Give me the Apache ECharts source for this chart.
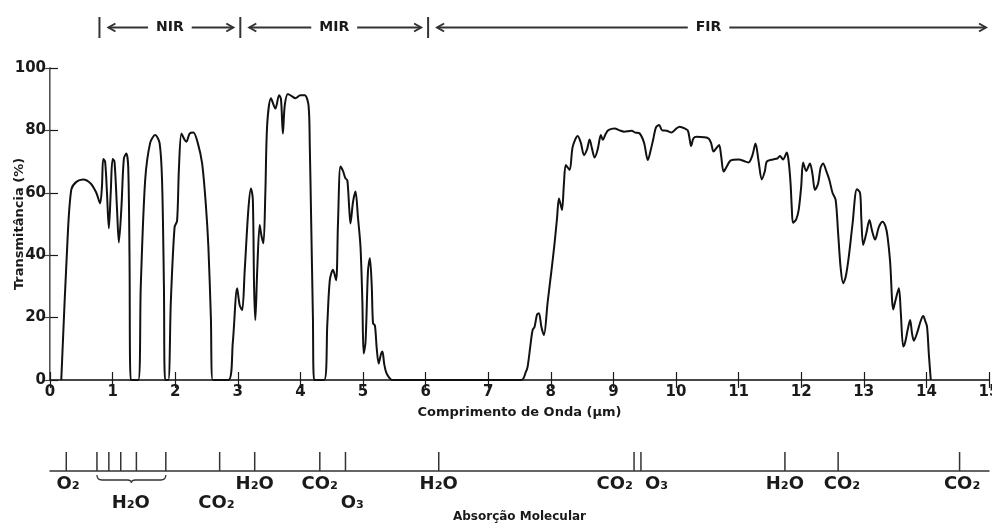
<!doctype html>
<html><head><meta charset="utf-8"></head>
<body style="margin:0">
<div id="container" style="width:992px;height:523px"></div>
<script src="https://cdn.jsdelivr.net/npm/echarts@6/dist/echarts.min.js"></script>
<script>
// espectro de transmitância atmosférica
var wavelength = [
  0.18, 0.28, 0.34, 0.42, 0.53, 0.65, 0.74, 0.80, 0.83, 0.85, 0.88, 0.91, 0.94, 0.97, 1.00, 1.03, 1.07, 1.10,
  1.14, 1.18, 1.22, 1.25, 1.27, 1.29, 1.41, 1.45, 1.52, 1.60, 1.68, 1.75, 1.79, 1.82, 1.84, 1.89, 1.93, 1.99,
  2.03, 2.06, 2.10, 2.15, 2.18, 2.23, 2.29, 2.36, 2.43, 2.49, 2.53, 2.57, 2.60, 2.85, 2.92, 2.99, 3.03, 3.07,
  3.11, 3.17, 3.21, 3.24, 3.26, 3.28, 3.31, 3.35, 3.38, 3.41, 3.44, 3.47, 3.53, 3.60, 3.66, 3.69, 3.72, 3.75,
  3.80, 3.86, 3.92, 4.00, 4.07, 4.13, 4.15, 4.17, 4.20, 4.22, 4.38, 4.43, 4.47, 4.52, 4.57, 4.60, 4.64, 4.68,
  4.72, 4.75, 4.78, 4.80, 4.84, 4.88, 4.92, 4.96, 4.99, 5.01, 5.04, 5.08, 5.11, 5.14, 5.16, 5.19, 5.22, 5.25,
  5.29, 5.31, 5.34, 5.38, 5.47, 7.53, 7.60, 7.63, 7.68, 7.71, 7.74, 7.78, 7.81, 7.85, 7.89, 7.95, 8.01, 8.06,
  8.10, 8.13, 8.16, 8.18, 8.21, 8.24, 8.30, 8.35, 8.43, 8.48, 8.53, 8.58, 8.62, 8.66, 8.70, 8.75, 8.80, 8.83,
  8.88, 8.92, 9.02, 9.10, 9.17, 9.29, 9.35, 9.42, 9.49, 9.55, 9.60, 9.64, 9.68, 9.73, 9.78, 9.85, 9.93, 10.00,
  10.06, 10.15, 10.19, 10.22, 10.24, 10.28, 10.33, 10.45, 10.52, 10.56, 10.60, 10.65, 10.69, 10.72, 10.76, 10.80,
  10.87, 11.00, 11.11, 11.16, 11.22, 11.27, 11.32, 11.37, 11.42, 11.45, 11.55, 11.62, 11.66, 11.71, 11.77, 11.80,
  11.83, 11.85, 11.87, 11.92, 11.96, 12.00, 12.03, 12.08, 12.14, 12.18, 12.22, 12.27, 12.31, 12.35, 12.40, 12.45,
  12.50, 12.55, 12.59, 12.63, 12.67, 12.71, 12.76, 12.82, 12.89, 12.94, 12.96, 12.99, 13.04, 13.09, 13.13, 13.18,
  13.24, 13.30, 13.35, 13.38, 13.42, 13.47, 13.50, 13.56, 13.59, 13.63, 13.66, 13.70, 13.74, 13.77, 13.80, 13.85,
  13.91, 13.95, 13.98, 14.01, 14.04, 14.07
];
var transmittance = [
  0, 45, 61, 63.5, 64.3, 63, 60, 56.6, 62, 70.8, 70, 60, 48.6, 60, 70.8, 70, 55, 44.1,
  55, 71, 72.6, 68, 40, 0, 0, 30, 64, 76, 78.5, 76, 64, 30, 0, 0, 25, 49,
  51, 68, 79, 77, 76.4, 79, 79.3, 76, 69.4, 56, 42.7, 20, 0, 0, 12, 29.4, 24, 22.4,
  35, 55, 61.4, 58, 30, 19.2, 35, 49.7, 46, 43.8, 60, 82, 90.3, 87, 91.3, 90, 79, 88,
  91.7, 91, 90.3, 91.3, 91.3, 88, 75, 53.4, 20, 0, 0, 18, 32, 35.3, 32, 50, 68.4, 67,
  64.6, 64, 55, 50.2, 57, 60.4, 52, 42.7, 25, 8.5, 12, 35, 39, 30, 18.2, 17.5, 10, 5.3,
  8.5, 9.1, 5, 2, 0, 0, 2.5, 4.3, 12, 16, 17, 21, 21.4, 17, 14.4, 25, 35, 43.8,
  52, 58.2, 56, 54.5, 63, 68.9, 67.3, 74.8, 78.2, 76, 72.1, 74, 77.1, 74, 71.3, 74, 78.5, 77,
  79, 80.1, 80.6, 80, 79.6, 79.9, 79.3, 79, 76, 70.5, 74, 77.5, 81, 81.7, 80, 79.9, 79.3, 80.5,
  81.2, 80.5, 79.9, 77, 75, 77.5, 78, 77.8, 77.4, 76, 73.2, 74.5, 75.3, 72, 66.8, 68,
  70.3, 70.7, 70, 69.7, 72, 75.8, 70, 64.3, 67, 70, 70.7, 71, 71.8, 70.7, 72.9, 70,
  63, 55, 50.4, 51.5, 54.5, 62, 69.7, 67, 69.4, 66, 60.9, 63, 68, 69.4, 67, 64.1,
  60, 57.7, 47, 36, 31, 33, 39.5, 50, 61.1, 60, 52, 43.3, 47, 51.3, 48, 45,
  49, 50.7, 49, 45.9, 38, 22.6, 25, 29.4, 22, 10.7, 12, 16, 19.2, 15, 12.6, 15,
  19, 20.5, 19, 17.1, 8, 0
];

// faixas espectrais (limites em µm)
var bandNames = ['NIR', 'MIR', 'FIR'];
var bandEdges = [0.79, 3.04, 6.04, 15];

// absorção molecular
var absTicks = [0.26, 0.75, 0.94, 1.13, 1.38, 1.85, 2.71, 3.27, 4.31, 4.72, 6.21, 9.33, 9.44, 11.74, 12.59, 14.53];
var absLabels = ['O₂', 'H₂O', 'CO₂', 'H₂O', 'CO₂', 'O₃', 'H₂O', 'CO₂', 'O₃', 'H₂O', 'CO₂', 'CO₂'];
var absLabelPos = [0.29, 1.29, 2.66, 3.27, 4.31, 4.83, 6.21, 9.02, 9.69, 11.74, 12.65, 14.57];
var absLabelRow = [0, 1, 1, 0, 0, 1, 0, 0, 0, 0, 0, 0];
var braceRange = [0.75, 1.85];

var FONT = '"DejaVu Sans", Verdana, sans-serif';
var INK = '#1a1a1a';

var measureCtx = document.createElement('canvas').getContext('2d');
function textWidth(t, font) {
  measureCtx.font = font;
  return measureCtx.measureText(t).width;
}

function arrowHead(x, y, dir) {
  // dir = -1 aponta para a esquerda, +1 para a direita
  return {
    type: 'polyline',
    shape: { points: [[x - dir * 7, y - 4], [x, y], [x - dir * 7, y + 4]] },
    style: { stroke: '#333', lineWidth: 2, fill: null }
  };
}

var dom = document.getElementById('container');
var myChart = echarts.init(dom);

var curve = wavelength.map(function (w, i) { return [w, transmittance[i]]; });
var bands = bandNames.map(function (n, i) { return [bandEdges[i], bandEdges[i + 1], n]; });
var absLabelData = absLabels.map(function (t, i) { return [absLabelPos[i], absLabelRow[i], t]; });

var option = {
  animation: false,
  backgroundColor: '#fff',
  grid: [
    { left: 50, right: 3, top: 68, bottom: 143, outerBoundsMode: 'none' },
    { left: 50, right: 3, top: 452, height: 19, outerBoundsMode: 'none' },
    { left: 50, right: 3, top: 17, height: 21, outerBoundsMode: 'none' }
  ],
  xAxis: [
    {
      type: 'value', gridIndex: 0, min: 0, max: 15, interval: 1, position: 'bottom',
      axisLine: { lineStyle: { color: INK, width: 1.5 } },
      axisTick: { inside: true, length: 8, lineStyle: { color: INK, width: 1.2 } },
      axisLabel: { color: INK, fontFamily: FONT, fontWeight: 'bold', fontSize: 15, margin: 5 },
      splitLine: { show: false },
      name: 'Comprimento de Onda (μm)', nameLocation: 'middle', nameGap: 26, nameMoveOverlap: false,
      nameTextStyle: { color: INK, fontFamily: FONT, fontWeight: 'bold', fontSize: 13 }
    },
    {
      type: 'value', gridIndex: 0, min: 0, max: 15, interval: 1, position: 'top',
      axisLine: { lineStyle: { color: '#444', width: 1.5 } },
      axisTick: { inside: true, length: 8, lineStyle: { color: INK, width: 1.2 } },
      axisLabel: { show: false }, splitLine: { show: false }
    },
    {
      type: 'value', gridIndex: 1, min: 0, max: 15,
      axisLine: { lineStyle: { color: '#333', width: 1.5 } },
      axisTick: { show: false }, axisLabel: { show: false }, splitLine: { show: false },
      name: 'Absorção Molecular', nameLocation: 'middle', nameGap: 40,
      nameTextStyle: { color: INK, fontFamily: FONT, fontWeight: 'bold', fontSize: 12 }
    },
    { type: 'value', gridIndex: 2, min: 0, max: 15, show: false }
  ],
  yAxis: [
    {
      type: 'value', gridIndex: 0, min: 0, max: 100, interval: 20, position: 'left',
      axisLine: { show: true, lineStyle: { color: INK, width: 1.5 } },
      axisTick: { show: true, inside: true, length: 8, lineStyle: { color: INK, width: 1.2 } },
      axisLabel: { color: INK, fontFamily: FONT, fontWeight: 'bold', fontSize: 15, margin: 4 },
      splitLine: { show: false },
      name: 'Transmitância (%)', nameLocation: 'middle', nameRotate: 90, nameGap: 24, nameMoveOverlap: false,
      nameTextStyle: { color: INK, fontFamily: FONT, fontWeight: 'bold', fontSize: 13 }
    },
    {
      type: 'value', gridIndex: 0, min: 0, max: 100, interval: 20, position: 'right',
      axisLine: { show: true, lineStyle: { color: '#999', width: 1 } },
      axisTick: { show: true, inside: true, length: 6, lineStyle: { color: '#444', width: 1.2 } },
      axisLabel: { show: false }, splitLine: { show: false }
    },
    { type: 'value', gridIndex: 1, min: 0, max: 1, show: false },
    { type: 'value', gridIndex: 2, min: 0, max: 1, show: false }
  ],
  series: [
    {
      name: 'Transmitância', type: 'line', xAxisIndex: 0, yAxisIndex: 0,
      data: curve, symbol: 'none', smooth: 0.3,
      lineStyle: { color: '#111', width: 2 }
    },
    {
      // marcas das bandas de absorção
      type: 'custom', xAxisIndex: 2, yAxisIndex: 2,
      data: absTicks.map(function (v) { return [v]; }),
      renderItem: function (params, api) {
        var top = api.coord([api.value(0), 1]);
        var bot = api.coord([api.value(0), 0]);
        return {
          type: 'line',
          shape: { x1: top[0], y1: top[1], x2: bot[0], y2: bot[1] },
          style: { stroke: '#333', lineWidth: 1.5 }
        };
      }
    },
    {
      // nomes das moléculas
      type: 'custom', xAxisIndex: 2, yAxisIndex: 2,
      data: absLabelData,
      renderItem: function (params, api) {
        var p = api.coord([api.value(0), 0]);
        var row = api.value(1);
        return {
          type: 'text', x: p[0], y: p[1] + 13 + row * 19,
          style: {
            text: absLabelData[params.dataIndex][2],
            font: 'bold 18px ' + FONT, fill: INK,
            align: 'center', verticalAlign: 'middle'
          }
        };
      }
    },
    {
      // chave sob as bandas de H2O
      type: 'custom', xAxisIndex: 2, yAxisIndex: 2,
      data: [braceRange],
      renderItem: function (params, api) {
        var a = api.coord([api.value(0), 0]);
        var b = api.coord([api.value(1), 0]);
        var y0 = a[1] + 4, y1 = a[1] + 9, m = (a[0] + b[0]) / 2;
        var d = 'M' + a[0] + ' ' + y0 + ' Q' + a[0] + ' ' + y1 + ' ' + (a[0] + 5) + ' ' + y1 +
          ' L' + (m - 4) + ' ' + y1 + ' Q' + m + ' ' + y1 + ' ' + m + ' ' + (y1 + 3) +
          ' Q' + m + ' ' + y1 + ' ' + (m + 4) + ' ' + y1 +
          ' L' + (b[0] - 5) + ' ' + y1 + ' Q' + b[0] + ' ' + y1 + ' ' + b[0] + ' ' + y0;
        return {
          type: 'path', shape: { pathData: d },
          style: { stroke: '#333', lineWidth: 1.3, fill: null }
        };
      }
    },
    {
      // faixas NIR / MIR / FIR
      type: 'custom', xAxisIndex: 3, yAxisIndex: 3,
      data: bands.map(function (b) { return [b[0], b[1]]; }),
      renderItem: function (params, api) {
        var s = api.coord([api.value(0), 0]);
        var e = api.coord([api.value(1), 0]);
        var t = api.coord([api.value(0), 1]);
        var name = bands[params.dataIndex][2];
        var font = 'bold 14px ' + FONT;
        var w = textWidth(name, font);
        var y = (s[1] + t[1]) / 2;
        var mid = (s[0] + e[0]) / 2;
        var last = params.dataIndex === bands.length - 1;
        var x1 = s[0] + 9, x2 = last ? e[0] - 3 : e[0] - 7;
        return {
          type: 'group',
          children: [
            { type: 'line', shape: { x1: s[0], y1: t[1], x2: s[0], y2: s[1] }, style: { stroke: '#333', lineWidth: 2 } },
            { type: 'line', shape: { x1: x1, y1: y, x2: mid - w / 2 - 8, y2: y }, style: { stroke: '#333', lineWidth: 2 } },
            { type: 'line', shape: { x1: mid + w / 2 + 8, y1: y, x2: x2, y2: y }, style: { stroke: '#333', lineWidth: 2 } },
            arrowHead(x1, y, -1),
            arrowHead(x2, y, 1),
            { type: 'text', x: mid, y: y, style: { text: name, font: font, fill: INK, align: 'center', verticalAlign: 'middle' } }
          ]
        };
      }
    }
  ]
};

myChart.setOption(option);
</script>
</body></html>
